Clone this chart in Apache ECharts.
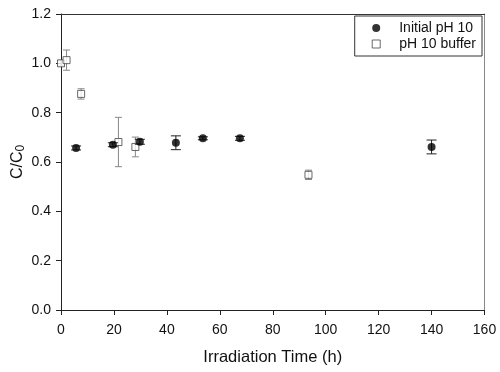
<!DOCTYPE html>
<html>
<head>
<meta charset="utf-8">
<script src="https://cdn.jsdelivr.net/npm/echarts@6/dist/echarts.min.js"></script>
<style>
  html, body { margin: 0; padding: 0; background: #fff; }
  #chart { width: 500px; height: 372px; }
</style>
</head>
<body>
<div id="chart"></div>
<script>
// Initial pH 10 (filled circles)
var initX = [5.7, 19.6, 29.8, 43.4, 53.6, 67.6, 140];
var initY = [0.657, 0.670, 0.682, 0.678, 0.696, 0.696, 0.661];
var initErr = [0.008, 0.008, 0.01, 0.028, 0.006, 0.008, 0.028];

// pH 10 buffer (open squares)
var bufX = [0, 2.1, 7.6, 21.7, 28.1, 93.5];
var bufY = [1.0, 1.013, 0.876, 0.681, 0.661, 0.548];
var bufErr = [0.01, 0.041, 0.021, 0.10, 0.04, 0.019];

var xTicks = [0, 20, 40, 60, 80, 100, 120, 140, 160];
var yTicks = [0.0, 0.2, 0.4, 0.6, 0.8, 1.0, 1.2];

function pts(xs, ys) {
  return xs.map(function (x, i) { return [x, ys[i]]; });
}
function errPts(xs, ys, es) {
  return xs.map(function (x, i) { return [x, ys[i] - es[i], ys[i] + es[i]]; });
}

// 误差线 renderItem
function errBar(color, half) {
  return function (params, api) {
    var lo = api.coord([api.value(0), api.value(1)]);
    var hi = api.coord([api.value(0), api.value(2)]);
    var st = { stroke: color, lineWidth: 1 };
    return {
      type: 'group',
      children: [
        { type: 'line', shape: { x1: lo[0], y1: lo[1], x2: hi[0], y2: hi[1] }, style: st },
        { type: 'line', shape: { x1: lo[0] - half, y1: lo[1], x2: lo[0] + half, y2: lo[1] }, style: st },
        { type: 'line', shape: { x1: hi[0] - half, y1: hi[1], x2: hi[0] + half, y2: hi[1] }, style: st }
      ]
    };
  };
}

var font = 'Liberation Sans, Arial, sans-serif';
var myChart = echarts.init(document.getElementById('chart'));
myChart.setOption({
  animation: false,
  grid: { left: 61, right: 15.5, top: 14, bottom: 62, containLabel: false, outerBoundsMode: 'none' },
  legend: {
    right: 18,
    top: 16,
    orient: 'vertical',
    backgroundColor: '#fff',
    borderColor: '#333',
    borderWidth: 1,
    borderRadius: 0,
    padding: [5, 6, 5, 17],
    itemGap: 2,
    itemWidth: 8,
    itemHeight: 8,
    textStyle: { fontFamily: font, fontSize: 14, color: '#111', padding: [0, 0, 0, 14] },
    data: [
      { name: 'Initial pH 10', icon: 'circle', itemStyle: { color: '#000' } },
      { name: 'pH 10 buffer', icon: 'rect', itemStyle: { color: '#fff', borderColor: '#444', borderWidth: 1 } }
    ]
  },
  xAxis: [{
    type: 'value',
    min: 0, max: 160, interval: 20,
    name: 'Irradiation Time (h)',
    nameLocation: 'middle',
    nameGap: 39,
    nameMoveOverlap: false,
    nameTextStyle: { fontFamily: font, fontSize: 16.5, color: '#111' },
    axisLine: { lineStyle: { color: '#222', width: 1 } },
    axisTick: { inside: false, length: 5, lineStyle: { color: '#222' } },
    axisLabel: {
      fontFamily: font, fontSize: 14, color: '#111', margin: 13,
      formatter: function (v) { return xTicks.indexOf(v) >= 0 ? String(v) : ''; }
    },
    splitLine: { show: false }
  }, {
    type: 'value', position: 'top',
    min: 0, max: 160,
    axisLine: { show: true, onZero: false, lineStyle: { color: '#333' } },
    axisTick: { show: false }, axisLabel: { show: false }, splitLine: { show: false }
  }],
  yAxis: [{
    type: 'value',
    min: 0, max: 1.2, interval: 0.2,
    name: '{a|C/C}{b|0}',
    nameLocation: 'middle',
    nameRotate: 90,
    nameGap: 34,
    nameMoveOverlap: false,
    nameTextStyle: {
      rich: {
        a: { fontFamily: font, fontSize: 16, color: '#111' },
        b: { fontFamily: font, fontSize: 12, color: '#111', verticalAlign: 'bottom', padding: [6, 0, 0, 0] }
      }
    },
    axisLine: { show: true, lineStyle: { color: '#222', width: 1 } },
    axisTick: { show: true, inside: false, length: 5, lineStyle: { color: '#222' } },
    axisLabel: {
      fontFamily: font, fontSize: 14, color: '#111', margin: 10,
      formatter: function (v) { return v.toFixed(1); }
    },
    splitLine: { show: false }
  }, {
    type: 'value', position: 'right',
    min: 0, max: 1.2,
    axisLine: { show: true, onZero: false, lineStyle: { color: '#888' } },
    axisTick: { show: false }, axisLabel: { show: false }, splitLine: { show: false }
  }],
  series: [
    {
      name: 'pH 10 buffer err',
      type: 'custom',
      renderItem: errBar('#888', 3.5),
      data: errPts(bufX, bufY, bufErr),
      encode: { x: 0, y: [1, 2] },
      z: 2
    },
    {
      name: 'pH 10 buffer',
      type: 'scatter',
      symbol: 'rect',
      symbolSize: 7,
      itemStyle: { color: '#fff', borderColor: '#444', borderWidth: 1 },
      data: pts(bufX, bufY),
      z: 3
    },
    {
      name: 'Initial pH 10 err',
      type: 'custom',
      renderItem: errBar('#222', 5),
      data: errPts(initX, initY, initErr),
      encode: { x: 0, y: [1, 2] },
      z: 4
    },
    {
      name: 'Initial pH 10',
      type: 'scatter',
      symbol: 'circle',
      symbolSize: 8,
      itemStyle: { color: '#000' },
      data: pts(initX, initY),
      z: 5
    }
  ]
});
</script>
</body>
</html>
